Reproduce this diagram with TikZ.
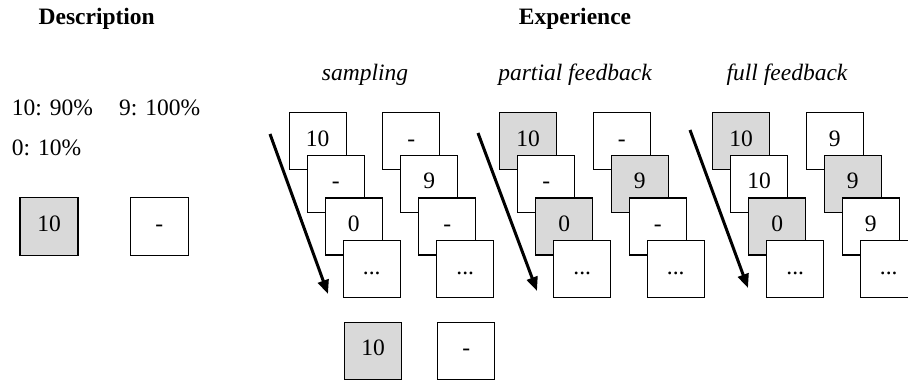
\documentclass[tikz,border=0pt]{standalone}
\usepackage{fontspec}
\setmainfont{Liberation Serif}
\usetikzlibrary{arrows.meta}
\definecolor{cardgray}{HTML}{D9D9D9}
\begin{document}
\begin{tikzpicture}[x=1pt,y=-1pt,
  every node/.style={font=\fontsize{23.5}{28}\selectfont, inner sep=0pt},
  card/.style={draw, line width=1.4pt, minimum size=57pt, anchor=north west, fill=white,
    text height=1.2em, text depth=0.2em},
  hit/.style={card, fill=cardgray},
  label/.style={anchor=base},
  head/.style={anchor=base, font=\fontsize{23.5}{28}\selectfont\bfseries},
  cond/.style={anchor=base, font=\fontsize{23.5}{28}\selectfont\itshape},
  timearrow/.style={line width=3pt, -{Triangle[length=14pt,width=11pt]}}]
\useasboundingbox (0,0) rectangle (908,380);
\clip (0,0) rectangle (908,380);
% headings
\node[head] (hdesc) at (96.7,24) {Description};
\node[head] (hexp) at (575,24) {Experience};
\node[cond] (csamp) at (365,80) {sampling};
\node[cond] (cpart) at (575,80) {partial feedback};
\node[cond] (cfull) at (787,80) {full feedback};
% description
\node[label, anchor=base west] (pa) at (11.7,115) {10: 90\%};
\node[label, anchor=base west] (pb) at (119,115) {9: 100\%};
\node[label, anchor=base west] (pc) at (11.7,155) {0: 10\%};
\node[hit, minimum size=58pt] (dA) at (19.3,196.7) {10};
\node[card, minimum size=58pt] (dB) at (129.7,196.7) {-};
% sampling
\node[card] (s1) at (288.5,112) {10};
\node[card] (s2) at (306.5,154.7) {-};
\node[card] (s3) at (324.5,197.3) {0};
\node[card] (s4) at (342.5,240) {...};
\node[card] (t1) at (382,112) {-};
\node[card] (t2) at (400,154.7) {9};
\node[card] (t3) at (418,197.3) {-};
\node[card] (t4) at (436,240) {...};
\coordinate (sa0) at (270,134);
\coordinate (sa1) at (328,294);
\draw[timearrow] (sa0) -- (sa1);
\node[hit] (chA) at (344,321.5) {10};
\node[card] (chB) at (437,321.5) {-};
% partial feedback
\node[hit] (p1) at (499,112) {10};
\node[card] (p2) at (517,154.7) {-};
\node[hit] (p3) at (535,197.3) {0};
\node[card] (p4) at (553,240) {...};
\node[card] (q1) at (592.5,112) {-};
\node[hit] (q2) at (610.5,154.7) {9};
\node[card] (q3) at (628.5,197.3) {-};
\node[card] (q4) at (646.5,240) {...};
\coordinate (pa0) at (478,133);
\coordinate (pa1) at (537,291);
\draw[timearrow] (pa0) -- (pa1);
% full feedback
\node[hit] (f1) at (712,112) {10};
\node[card] (f2) at (730,154.7) {10};
\node[hit] (f3) at (748,197.3) {0};
\node[card] (f4) at (766,240) {...};
\node[card] (g1) at (805.5,112) {9};
\node[hit] (g2) at (823.5,154.7) {9};
\node[card] (g3) at (841.5,197.3) {9};
\node[card] (g4) at (859.5,240) {...};
\coordinate (fa0) at (690,130);
\coordinate (fa1) at (748,288);
\draw[timearrow] (fa0) -- (fa1);
\end{tikzpicture}
\end{document}
